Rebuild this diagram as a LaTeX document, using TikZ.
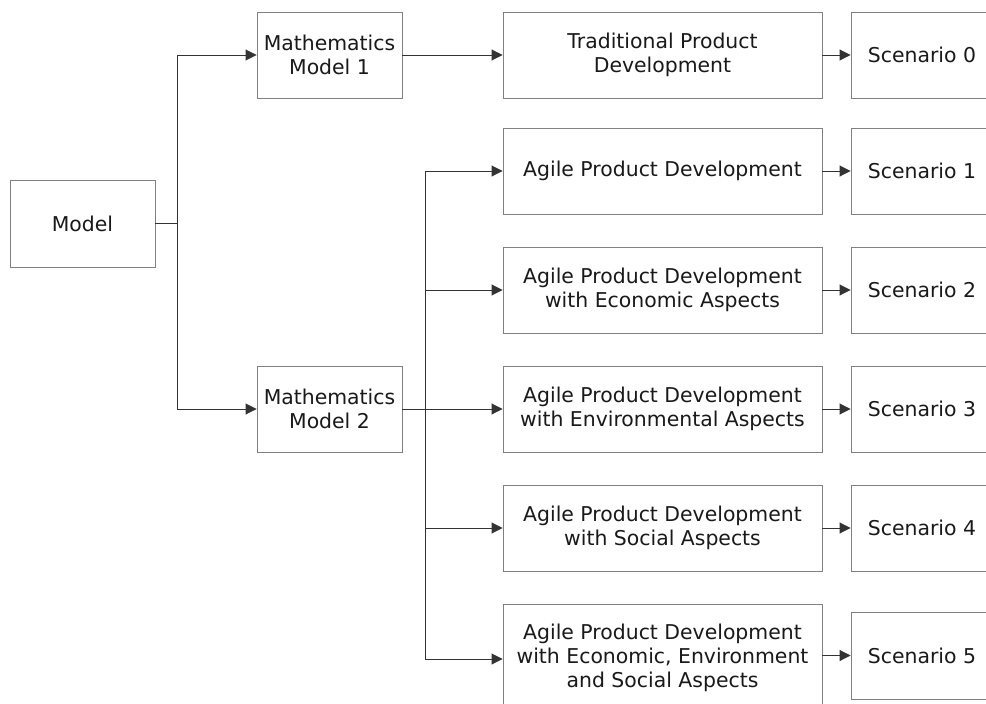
\documentclass[tikz,border=0pt]{standalone}
\usepackage{fontspec}
\setmainfont{DejaVu Sans}
\usetikzlibrary{arrows.meta}
\begin{document}
\begin{tikzpicture}[x=1pt,y=-1pt,
  box/.style={draw=black!50, line width=0.9pt, align=center, inner sep=0pt,
    font=\fontsize{20.4}{24}\selectfont, text=black!90},
  conn/.style={draw=black!80, line width=0.9pt},
  arr/.style={conn, -{Triangle[length=11pt,width=11pt]}}]
\useasboundingbox (0,0) rectangle (986,704);
\clip (0,0) rectangle (986,704);
% left column
\node[box, minimum width=145pt, minimum height=87pt] (model) at (82.5,223.5) {Model};
\node[box, minimum width=145pt, minimum height=86pt] (mm1) at (329.5,55) {Mathematics\\Model 1};
\node[box, minimum width=145pt, minimum height=86pt] (mm2) at (329.5,409) {Mathematics\\Model 2};
% middle column
\node[box, minimum width=319pt, minimum height=86pt] (tpd) at (662.5,55) {Traditional Product\\Development};
\node[box, minimum width=319pt, minimum height=86pt] (a1) at (662.5,171) {Agile Product Development};
\node[box, minimum width=319pt, minimum height=86pt] (a2) at (662.5,290) {Agile Product Development\\with Economic Aspects};
\node[box, minimum width=319pt, minimum height=86pt] (a3) at (662.5,409) {Agile Product Development\\with Environmental Aspects};
\node[box, minimum width=319pt, minimum height=86pt] (a4) at (662.5,528) {Agile Product Development\\with Social Aspects};
\node[box, minimum width=319pt, minimum height=108pt] (a5) at (662.5,658) {Agile Product Development\\with Economic, Environment\\and Social Aspects};
% scenarios
\node[box, minimum width=142pt, minimum height=86pt] (s0) at (922,55) {Scenario 0};
\node[box, minimum width=142pt, minimum height=86pt] (s1) at (922,171) {Scenario 1};
\node[box, minimum width=142pt, minimum height=86pt] (s2) at (922,290) {Scenario 2};
\node[box, minimum width=142pt, minimum height=86pt] (s3) at (922,409) {Scenario 3};
\node[box, minimum width=142pt, minimum height=86pt] (s4) at (922,528) {Scenario 4};
\node[box, minimum width=142pt, minimum height=87pt] (s5) at (922,655.5) {Scenario 5};
% junction coordinates
\coordinate (j1) at (177,223.5);
\coordinate (j2) at (425,409);
% connectors from Model
\draw[conn] (model.east) -- (j1);
\draw[arr] (j1) |- (mm1.west);
\draw[arr] (j1) |- (mm2.west);
% MM1 to traditional
\draw[arr] (mm1.east) -- (tpd.west);
% MM2 to agile variants
\draw[conn] (mm2.east) -- (j2);
\draw[arr] (j2) |- (a1.west);
\draw[arr] (j2) |- (a2.west);
\draw[arr] (j2) -- (a3.west);
\draw[arr] (j2) |- (a4.west);
\draw[arr] (j2) |- ([yshift=-1pt]a5.west);
% to scenarios
\draw[arr] (tpd.east) -- (s0.west);
\draw[arr] (a1.east) -- (s1.west);
\draw[arr] (a2.east) -- (s2.west);
\draw[arr] (a3.east) -- (s3.west);
\draw[arr] (a4.east) -- (s4.west);
\draw[arr] (a5.east |- s5.west) -- (s5.west);
\end{tikzpicture}
\end{document}
